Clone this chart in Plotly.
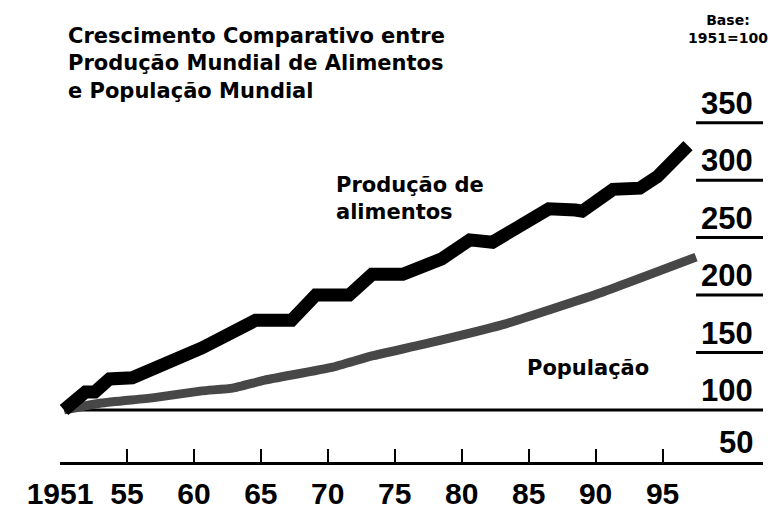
import plotly.graph_objects as go

# ---- data ----
food_years = [1950.3, 1951.9, 1952.6, 1953.7, 1955.4, 1959.3, 1960.6, 1964.6, 1967.3,
              1969.1, 1971.6, 1973.3, 1975.6, 1978.5, 1980.6, 1982.3, 1986.5, 1988.5,
              1989.0, 1991.3, 1993.3, 1994.6, 1996.9]
food_values = [100, 115.7, 115.7, 127, 128, 145.5, 154, 178, 178,
               200, 200, 218, 218, 231.5, 248, 246, 275, 274,
               273, 292, 293, 303, 330]

pop_years = [1950.3, 1953.1, 1956.9, 1960.6, 1962.9, 1965.3, 1970.3, 1973.3, 1977.1,
             1983.0, 1990.5, 1997.5]
pop_values = [100, 106, 110.5, 116.6, 119, 126, 137, 147, 157,
              174, 202.5, 233]

x_tick_vals = [1950, 1955, 1960, 1965, 1970, 1975, 1980, 1985, 1990, 1995]
x_tick_text = ["1951", "55", "60", "65", "70", "75", "80", "85", "90", "95"]
y_tick_vals = [50, 100, 150, 200, 250, 300, 350]
y_tick_text = ["50", "100", "150", "200", "250", "300", "350"]

title_text = "Crescimento Comparativo entre<br>Produção Mundial de Alimentos<br>e População Mundial"
base_text = "Base:<br>1951=100"
food_label = "Produção de<br>alimentos"
pop_label = "População"

# ---- layout geometry ----
W, H = 776, 515
ML, MR, MT, MB = 52, 21, 100, 61
X0, X1 = 1950, 2002.5
Y0, Y1 = 54.7, 362.8
FONT = "DejaVu Sans"
NUM_FONT = "Liberation Sans"

def px(xp):
    return (xp - ML) / (W - ML - MR)

def py(yp):
    return (H - MB - yp) / (H - MT - MB)

fig = go.Figure()

fig.add_trace(go.Scatter(
    x=pop_years, y=pop_values, mode="lines",
    line=dict(color="#474747", width=9, shape="spline", smoothing=0.4),
    hoverinfo="skip", showlegend=False))

fig.add_trace(go.Scatter(
    x=food_years, y=food_values, mode="lines",
    line=dict(color="#000000", width=13),
    hoverinfo="skip", showlegend=False))

shapes = []
for v in y_tick_vals[1:]:
    x_start = 1950.3 if v == 100 else 1997.5
    shapes.append(dict(type="line", xref="x", yref="y", x0=x_start, x1=X1,
                       y0=v, y1=v, line=dict(color="black", width=3), layer="below"))

annotations = []
for v, t in zip(y_tick_vals, y_tick_text):
    yv = Y0 if v == 50 else v
    annotations.append(dict(x=X1, y=yv, xref="x", yref="y", text=t,
                            showarrow=False, xanchor="right", yanchor="bottom",
                            yshift=0, xshift=-8,
                            font=dict(family=NUM_FONT, size=31, color="black", weight="bold")))

annotations += [
    dict(x=px(58), y=py(14), xref="paper", yref="paper", text=title_text,
         showarrow=False, xanchor="left", yanchor="top", align="left",
         font=dict(family=FONT, size=21, color="black", weight="bold")),
    dict(x=px(720), y=py(2), xref="paper", yref="paper", text=base_text,
         showarrow=False, xanchor="center", yanchor="top", align="center",
         font=dict(family=FONT, size=14, color="black", weight="bold")),
    dict(x=px(326), y=py(163), xref="paper", yref="paper", text=food_label,
         showarrow=False, xanchor="left", yanchor="top", align="left",
         font=dict(family=FONT, size=21, color="black", weight="bold")),
    dict(x=px(517), y=py(346), xref="paper", yref="paper", text=pop_label,
         showarrow=False, xanchor="left", yanchor="top", align="left",
         font=dict(family=FONT, size=21, color="black", weight="bold")),
]

fig.update_layout(
    width=W, height=H,
    margin=dict(l=ML, r=MR, t=MT, b=MB, autoexpand=False),
    paper_bgcolor="white", plot_bgcolor="white",
    shapes=shapes, annotations=annotations,
    xaxis=dict(range=[X0, X1], showgrid=False, zeroline=False,
               showline=True, linecolor="black", linewidth=3,
               tickvals=x_tick_vals, ticktext=x_tick_text,
               ticks="inside", ticklen=13, tickwidth=2, tickcolor="black",
               ticklabelstandoff=3,
               tickfont=dict(family=NUM_FONT, size=30, color="black", weight="bold")),
    yaxis=dict(range=[Y0, Y1], visible=False),
)

fig.write_html("out.html")
